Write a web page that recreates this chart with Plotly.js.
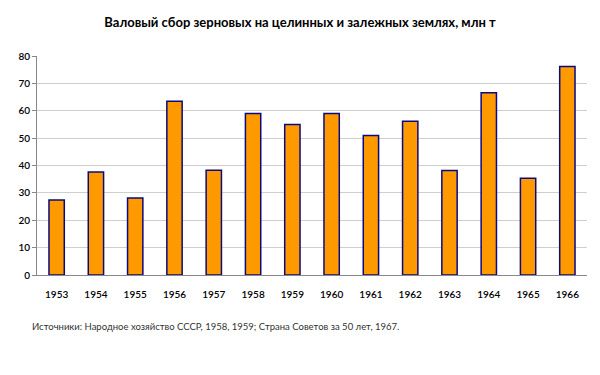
<!DOCTYPE html>
<html><head><meta charset="utf-8">
<script src="https://cdn.plot.ly/plotly-3.0.1.min.js"></script>
<style>body{margin:0;background:#fff}#c{width:600px;height:375px}</style>
</head><body><div id="c"></div>
<script>
const years = ["1953","1954","1955","1956","1957","1958","1959","1960","1961","1962","1963","1964","1965","1966"];
const harvest = [27.4,37.6,28.1,63.5,38.3,59.0,55.0,59.0,51.0,56.2,38.2,66.6,35.3,76.2];
const titleText = "Валовый сбор зерновых на целинных и залежных землях, млн т";
const sourceText = "Источники: Народное хозяйство СССР, 1958, 1959; Страна Советов за 50 лет, 1967.";
const yTicks = [0,10,20,30,40,50,60,70,80];

Plotly.newPlot("c", [{
  type: "bar", x: years, y: harvest,
  marker: {color: "#FF9900", line: {color: "#0A0A80", width: 1.5}},
  hoverinfo: "x+y"
}], {
  width: 600, height: 375,
  margin: {l: 37, r: 13, t: 56, b: 100},
  paper_bgcolor: "#fff", plot_bgcolor: "#fff",
  bargap: 0.61,
  font: {family: "Lato, 'Open Sans', sans-serif", color: "#000", size: 10},
  title: {text: "<b>" + titleText + "</b>", x: 0.5, xanchor: "center", y: 0.94, yanchor: "middle",
          font: {size: 13, family: "Lato, 'Open Sans', sans-serif", color: "#000"}},
  xaxis: {type: "category", showgrid: false, showline: true, linecolor: "#888", linewidth: 1,
          ticks: "", tickfont: {size: 10, family: "Lato, sans-serif", weight: 600}, ticklabelstandoff: 10},
  yaxis: {range: [0, 80], tickvals: yTicks, showgrid: true, gridcolor: "#cfcfcf", gridwidth: 1,
          showline: true, linecolor: "#888", linewidth: 1, ticks: "outside", ticklen: 4, tickcolor: "#888",
          zeroline: false, tickfont: {size: 10, family: "Lato, sans-serif", weight: 600}},
  annotations: [{text: sourceText, xref: "paper", yref: "paper", x: -0.012, y: -0.235, xanchor: "left", yanchor: "middle",
                 showarrow: false, font: {size: 9.5, color: "#333", family: "Lato, 'Open Sans', sans-serif"}}],
  showlegend: false
}, {displayModeBar: false});
</script></body></html>
